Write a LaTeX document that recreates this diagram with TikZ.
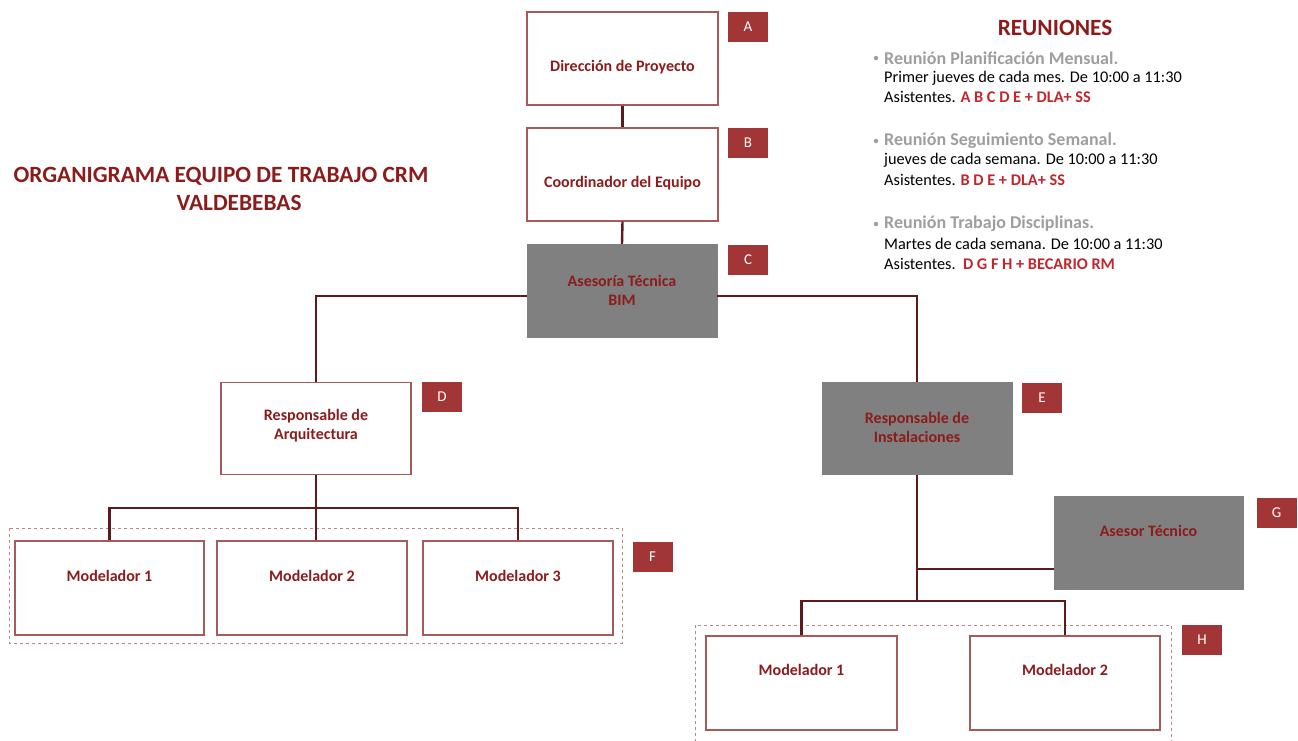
\documentclass[tikz,border=0pt]{standalone}
\usepackage{fontspec}
\setmainfont{Carlito}
\usetikzlibrary{calc}
\definecolor{boxtxt}{HTML}{8C1C1C}
\definecolor{boxline}{HTML}{A85A5A}
\definecolor{conncol}{HTML}{5E1A1A}
\definecolor{tagred}{HTML}{A23535}
\definecolor{boxgray}{HTML}{808080}
\definecolor{headgray}{HTML}{9E9E9E}
\definecolor{attred}{HTML}{C0272D}
\definecolor{dashc}{HTML}{B48888}
\begin{document}
\begin{tikzpicture}[x=1pt,y=-1pt,
  wbox/.style={draw=boxline, line width=1.2pt, fill=white, inner sep=0pt},
  gbox/.style={fill=boxgray, draw=boxgray, inner sep=0pt},
  boxtext/.style={text=boxtxt, font=\fontsize{16}{19}\selectfont\bfseries, align=center, inner sep=0pt},
  tagbox/.style={fill=tagred, text=white, minimum width=40pt, minimum height=30pt, inner sep=0pt, font=\fontsize{15}{17}\selectfont},
  connector/.style={draw=conncol, line width=2.4pt},
  groupbox/.style={draw=dashc, dashed, line width=1pt},
  titletext/.style={text=boxtxt, font=\fontsize{23.3}{27}\selectfont\bfseries, inner sep=0pt},
  headtext/.style={text=headgray, font=\fontsize{18}{22}\selectfont\bfseries, inner sep=0pt, anchor=west},
  bodytext/.style={text=black, font=\fontsize{16.3}{19}\selectfont, inner sep=0pt, anchor=west},
  dotmark/.style={circle, fill=headgray, inner sep=0pt, minimum size=4.5pt}]
\useasboundingbox (0,0) rectangle (1298,740);

% ---------- boxes ----------
\node[wbox, minimum width=191pt, minimum height=93pt] (A) at (622.5,58.5) {};
\node[boxtext] (At) at (622.5,67) {Dirección de Proyecto};
\node[wbox, minimum width=191pt, minimum height=93pt] (B) at (622.5,174.5) {};
\node[boxtext] (Bt) at (622.5,183) {Coordinador del Equipo};
\node[gbox, minimum width=190pt, minimum height=93pt] (C) at (622,290.5) {};
\node[boxtext] (Ct) at (622,290) {Asesoría Técnica\\BIM};
\node[wbox, minimum width=190pt, minimum height=92pt] (D) at (316,428.5) {};
\node[boxtext] (Dt) at (316,426) {Responsable de\\Arquitectura};
\node[gbox, minimum width=190pt, minimum height=92pt] (E) at (917,428.5) {};
\node[boxtext] (Et) at (917,427) {Responsable de\\Instalaciones};
\node[gbox, minimum width=189pt, minimum height=93pt] (G) at (1148.5,542.5) {};
\node[boxtext] (Gt) at (1148.5,531) {Asesor Técnico};

% groups
\draw[groupbox] (9,528) rectangle (622,643);
\draw[groupbox] (695,742) -- (695,625) -- (1171,625) -- (1171,742);

\node[wbox, minimum width=189pt, minimum height=94pt] (m1) at (109.5,588) {};
\node[boxtext] (m1t) at (109.5,576) {Modelador 1};
\node[wbox, minimum width=190pt, minimum height=94pt] (m2) at (312,588) {};
\node[boxtext] (m2t) at (312,576) {Modelador 2};
\node[wbox, minimum width=190pt, minimum height=94pt] (m3) at (518,588) {};
\node[boxtext] (m3t) at (518,576) {Modelador 3};
\node[wbox, minimum width=191pt, minimum height=94pt] (h1) at (801.5,683) {};
\node[boxtext] (h1t) at (801.5,670) {Modelador 1};
\node[wbox, minimum width=190pt, minimum height=94pt] (h2) at (1065,683) {};
\node[boxtext] (h2t) at (1065,670) {Modelador 2};

% tags
\node[tagbox] (tA) at (748,27) {A};
\node[tagbox] (tB) at (748,143) {B};
\node[tagbox] (tC) at (748,259.5) {C};
\node[tagbox] (tD) at (442,397) {D};
\node[tagbox] (tE) at (1042,397.5) {E};
\node[tagbox] (tF) at (652.5,556.5) {F};
\node[tagbox] (tG) at (1276.5,512.5) {G};
\node[tagbox] (tH) at (1202,639.5) {H};

% ---------- connectors ----------
\draw[connector] (A.south) -- (B.north);
\draw[connector] (B.south) -- (C.north);
\draw[connector] ($(C.west)+(0,5.5)$) -| (D.north);
\draw[connector] ($(C.east)+(0,5.5)$) -| (E.north);
\coordinate (fbar) at (316,508);
\draw[connector] (D.south) -- (fbar);
\draw[connector] (m1.north) |- (fbar) -| (m3.north);
\draw[connector] (fbar) -- (fbar |- m2.north);
\coordinate (hbar) at (917,601);
\draw[connector] (E.south) -- (hbar);
\draw[connector] (h1.north) |- (hbar) -| (h2.north);
\coordinate (gj) at ($(G.south west)+(0,-20)$);
\draw[connector] (gj) -- (gj -| E.south);

% ---------- title ----------
\node[titletext] (title1) at (221,176) {ORGANIGRAMA EQUIPO DE TRABAJO CRM};
\node[titletext] (title2) at (239,203) {VALDEBEBAS};

% ---------- meetings ----------
\node[titletext] (reu) at (1055,28) {REUNIONES};
\node[dotmark] (b1) at (876,58) {};
\node[headtext] (r1h) at (884,58) {Reunión Planificación Mensual.};
\node[bodytext] (r1a) at (884,78) {Primer jueves de cada mes. De 10:00 a 11:30};
\node[bodytext] (r1b) at (884,97) {Asistentes. \textcolor{attred}{\bfseries A B C D E + DLA+ SS}};
\node[dotmark] (b2) at (876,141) {};
\node[headtext] (r2h) at (884,141) {Reunión Seguimiento Semanal.};
\node[bodytext] (r2a) at (884,160) {jueves de cada semana. De 10:00 a 11:30};
\node[bodytext] (r2b) at (884,180) {Asistentes. \textcolor{attred}{\bfseries B D E + DLA+ SS}};
\node[dotmark] (b3) at (876,224) {};
\node[headtext] (r3h) at (884,224) {Reunión Trabajo Disciplinas.};
\node[bodytext] (r3a) at (884,244) {Martes de cada semana. De 10:00 a 11:30};
\node[bodytext] (r3b) at (884,264) {Asistentes.\ \ \textcolor{attred}{\bfseries D G F H + BECARIO RM}};
\end{tikzpicture}
\end{document}
